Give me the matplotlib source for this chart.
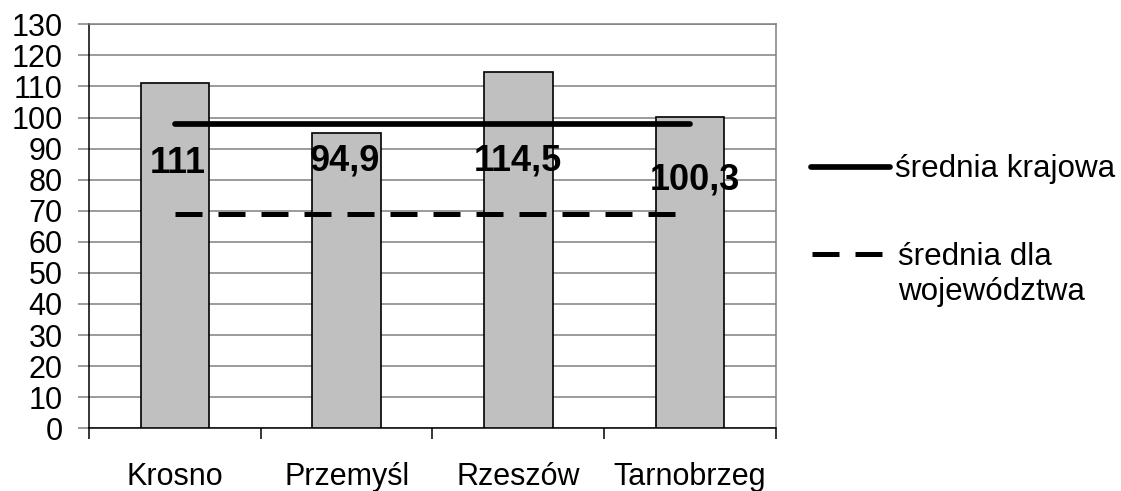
import numpy as np
import matplotlib
matplotlib.use("Agg")
import matplotlib.pyplot as plt
from matplotlib.lines import Line2D

plt.rcParams['font.family'] = ['Liberation Sans', 'DejaVu Sans']

cities = ['Krosno', 'Przemyśl', 'Rzeszów', 'Tarnobrzeg']
values = [111, 94.9, 114.5, 100.3]
value_labels = ['111', '94,9', '114,5', '100,3']
national_avg = 98
province_avg = 69
national_label = 'średnia krajowa'
province_label = 'średnia dla\nwojewództwa'

# label placement (baseline, data units) and small x shifts
label_y = [82.0, 82.8, 82.8, 76.7]
label_dx = [0.015, -0.01, 0.0, 0.03]

fig = plt.figure(figsize=(11.21, 4.91), dpi=100)
ax = fig.add_axes([0.0794, 0.1277, 0.6128, 0.8228])

x = np.arange(len(cities))
ax.bar(x, values, width=0.4, color='#c0c0c0', edgecolor='black', linewidth=1.2, zorder=3)

ax.plot([x[0], x[-1]], [national_avg, national_avg], color='black', lw=4.1,
        solid_capstyle='round', zorder=4)
ax.plot([x[0], x[-1]], [province_avg, province_avg], color='black', lw=3.6,
        ls=(0, (5.4, 3.2)), dash_capstyle='butt', zorder=4)

for i in range(len(cities)):
    ax.text(x[i] + label_dx[i], label_y[i], value_labels[i], ha='center', va='baseline',
            fontsize=26, fontweight='bold', color='black', zorder=5)

ax.set_xlim(-0.5, len(cities) - 0.5)
ax.set_ylim(0, 130)
ax.set_yticks(np.arange(0, 131, 10))
ax.yaxis.grid(True, color='#808080', linewidth=1.1, zorder=0)
ax.tick_params(axis='y', length=8, width=1.1, color='#808080', pad=11, labelsize=22)

ax.set_xticks(np.arange(-0.5, len(cities), 1))
ax.set_xticklabels([])
ax.set_xticks(x, minor=True)
ax.set_xticklabels(cities, minor=True)
ax.tick_params(axis='x', which='major', length=8, width=1.1, color='black')
ax.tick_params(axis='x', which='minor', length=0, pad=24, labelsize=22)

ax.spines['left'].set_color('black')
ax.spines['bottom'].set_color('black')
ax.spines['right'].set_color('#808080')
ax.spines['top'].set_color('#808080')
for s in ax.spines.values():
    s.set_linewidth(1.1)

# legend drawn by hand (figure pixels -> fractions)
W, H = 1121.0, 491.0
fig.add_artist(Line2D([810.5 / W, 889.5 / W], [1 - 167 / H, 1 - 167 / H], color='black',
                      lw=4.1, solid_capstyle='round', transform=fig.transFigure))
fig.text(895 / W, 1 - 177 / H, national_label, fontsize=22.6, va='baseline', ha='left')
fig.add_artist(Line2D([812 / W, 882 / W], [1 - 254.3 / H, 1 - 254.3 / H], color='black',
                      lw=3.6, ls=(0, (5.4, 3.2)), dash_capstyle='butt',
                      transform=fig.transFigure))
fig.text(898 / W, 1 - 300 / H, province_label, fontsize=22.6, va='baseline', ha='left',
         linespacing=1.2)

plt.savefig('out.png', dpi=100)
